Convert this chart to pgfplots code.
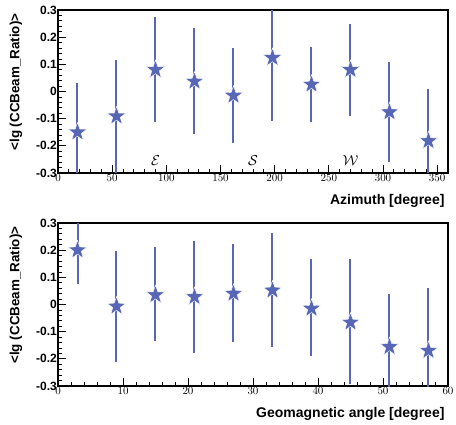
\documentclass[border=0pt]{standalone}
\usepackage{pgfplots}
\usepackage{pgfplotstable}
\pgfplotsset{compat=1.18}
\usepackage{fontspec}
\setmainfont{Liberation Sans}
\definecolor{pts}{HTML}{5867B5}
\pgfdeclareplotmark{fstar}{%
  \pgfpathmoveto{\pgfpointpolar{90}{\pgfplotmarksize}}%
  \pgfpathlineto{\pgfpointpolar{126}{0.4\pgfplotmarksize}}%
  \pgfpathlineto{\pgfpointpolar{162}{\pgfplotmarksize}}%
  \pgfpathlineto{\pgfpointpolar{198}{0.4\pgfplotmarksize}}%
  \pgfpathlineto{\pgfpointpolar{234}{\pgfplotmarksize}}%
  \pgfpathlineto{\pgfpointpolar{270}{0.4\pgfplotmarksize}}%
  \pgfpathlineto{\pgfpointpolar{306}{\pgfplotmarksize}}%
  \pgfpathlineto{\pgfpointpolar{342}{0.4\pgfplotmarksize}}%
  \pgfpathlineto{\pgfpointpolar{18}{\pgfplotmarksize}}%
  \pgfpathlineto{\pgfpointpolar{54}{0.4\pgfplotmarksize}}%
  \pgfpathclose
  \pgfusepathqfillstroke
}
% points
\pgfplotstableread{
x y
18 -0.150
54 -0.091
90 0.080
126 0.037
162 -0.015
198 0.124
234 0.026
270 0.080
306 -0.076
342 -0.182
}\azdata
% error bar ends (low, high) separated by nan
\pgfplotstableread{
x y
18 -0.45
18 0.033
18 nan
54 -0.40
54 0.117
54 nan
90 -0.113
90 0.275
90 nan
126 -0.158
126 0.235
126 nan
162 -0.190
162 0.161
162 nan
198 -0.110
198 0.42
198 nan
234 -0.114
234 0.165
234 nan
270 -0.090
270 0.250
270 nan
306 -0.259
306 0.110
306 nan
342 -0.48
342 0.011
}\azerr
\pgfplotstableread{
x y
3 0.200
9 -0.007
15 0.035
21 0.028
27 0.040
33 0.052
39 -0.015
45 -0.066
51 -0.156
57 -0.170
}\gmdata
\pgfplotstableread{
x y
3 0.074
3 0.40
3 nan
9 -0.210
9 0.196
9 nan
15 -0.136
15 0.210
15 nan
21 -0.179
21 0.235
21 nan
27 -0.138
27 0.222
27 nan
33 -0.155
33 0.262
33 nan
39 -0.190
39 0.167
39 nan
45 -0.293
45 0.167
45 nan
51 -0.46
51 0.040
51 nan
57 -0.47
57 0.062
}\gmerr
\pgfplotsset{
  myaxis/.style={
    scale only axis, width=390pt, height=163pt,
    anchor=south west,
    ymin=-0.3, ymax=0.3,
    ytick={-0.3,-0.2,-0.1,0,0.1,0.2,0.3},
    yticklabels={-0.3,-0.2,-0.1,0,0.1,0.2,0.3},
    yticklabel style={font=\fontsize{12}{12}\selectfont\bfseries, inner sep=1pt},
    xticklabel style={font=\fontsize{10.5}{10.5}\selectfont, inner sep=1pt},
    minor tick num=4,
    tick align=inside,
    xtick pos=bottom, ytick pos=left,
    major tick length=8pt, minor tick length=4pt,
    axis line style={line width=1.3pt},
    every tick/.append style={black, line width=0.8pt},
    every axis x label/.style={at={(axis description cs:1,0)}, anchor=north east, yshift=-18pt, font=\fontsize{14}{14}\selectfont\bfseries},
    every axis y label/.style={at={(axis description cs:-0.108,1)}, rotate=90, anchor=east, font=\fontsize{13.4}{13.4}\selectfont\bfseries},
    ylabel={<lg (CCBeam\_Ratio)>},
    unbounded coords=jump,
  },
  estyle/.style={
    draw=pts, line width=2pt, mark=none, solid,
  },
  pstyle/.style={
    only marks, draw=pts, fill=pts,
    mark=fstar, mark size=9.8pt,
    mark options={fill=pts, draw=white, line width=0.4pt, solid},
  }
}
\begin{document}
\begin{tikzpicture}
\begin{axis}[myaxis, at={(58pt,251pt)},
  xmin=0, xmax=360,
  xtick={0,50,...,350},
  xlabel={Azimuth [degree]},
]
\addplot[estyle] table[x=x, y=y] {\azerr};
\addplot[pstyle] table[x=x, y=y] {\azdata};
\node[font=\fontsize{15}{15}\selectfont] at (axis cs:90,-0.255) {$\mathcal{E}$};
\node[font=\fontsize{15}{15}\selectfont] at (axis cs:180,-0.255) {$\mathcal{S}$};
\node[font=\fontsize{15}{15}\selectfont] at (axis cs:270,-0.255) {$\mathcal{W}$};
\end{axis}
\begin{axis}[myaxis, at={(58pt,38pt)},
  xmin=0, xmax=60,
  xtick={0,10,...,60},
  xlabel={Geomagnetic angle [degree]},
]
\addplot[estyle] table[x=x, y=y] {\gmerr};
\addplot[pstyle] table[x=x, y=y] {\gmdata};
\end{axis}
\pgfresetboundingbox
\useasboundingbox (0pt,0pt) rectangle (456pt,424pt);
\end{tikzpicture}
\end{document}
